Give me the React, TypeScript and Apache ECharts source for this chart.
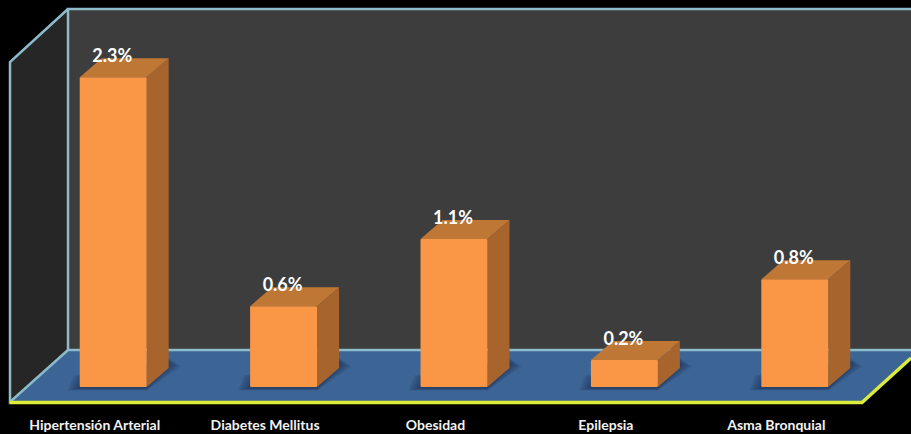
import React, { useEffect, useRef } from "react";
import * as echarts from "echarts";

const categories = ["Hipertensión Arterial", "Diabetes Mellitus", "Obesidad", "Epilepsia", "Asma Bronquial"];
const prevalence = [2.3, 0.6, 1.1, 0.2, 0.8];

const FRONT = "#F99746";
const TOP = "#BF7736";
const SIDE = "#A7642D";
const EDGE = "#8DBBCB";
const FLOOR_EDGE = "#DDEB3A";

// Oblique 3D offset shared by the room and the columns.
const DEPTH_X = 22;
const DEPTH_Y = 19;

// Soft floor shadow, built from stacked translucent layers that widen outwards.
function shadowLayers(l: number, r: number, base: number) {
  const layers: any[] = [];
  for (let i = 0; i < 6; i++) {
    const g = 12 - i * 2;
    layers.push({
      type: "polygon",
      shape: {
        points: [
          [l - g, base + 1 + g * 0.2],
          [r, base + 1 + g * 0.2],
          [r + DEPTH_X + g, base - DEPTH_Y - 4 + g * 0.2],
          [r + DEPTH_X, base - DEPTH_Y - 6 - g * 0.3],
          [l + 6 - g, base - 8 - g * 0.3],
        ],
      },
      style: { fill: "rgba(22,38,72,0.12)" },
    });
  }
  return layers;
}

function renderColumn(params: any, api: any) {
  const value = api.value(1);
  const [cx, top] = api.coord([api.value(0), value]);
  const [, base] = api.coord([api.value(0), 0]);
  const half = (api.size([1, 0])[0] * 0.393) / 2;
  const l = cx - half;
  const r = cx + half;
  return {
    type: "group",
    children: [
      ...shadowLayers(l, r, base),
      {
        type: "polygon",
        shape: { points: [[r, top], [r + DEPTH_X, top - DEPTH_Y], [r + DEPTH_X, base - DEPTH_Y], [r, base]] },
        style: { fill: SIDE },
      },
      {
        type: "polygon",
        shape: { points: [[l, top], [l + DEPTH_X, top - DEPTH_Y], [r + DEPTH_X, top - DEPTH_Y], [r, top]] },
        style: { fill: TOP },
      },
      { type: "rect", shape: { x: l, y: top, width: r - l, height: base - top, r: 1 }, style: { fill: FRONT } },
      {
        type: "text",
        style: {
          x: cx - 1,
          y: top - 22,
          text: `${value}%`,
          fill: "#FFFFFF",
          font: 'bold 18px Lato, "Open Sans", sans-serif',
          align: "center",
          verticalAlign: "middle",
        },
      },
    ],
  };
}

export default function App() {
  const ref = useRef<HTMLDivElement>(null);

  useEffect(() => {
    const chart = echarts.init(ref.current!, undefined, { renderer: "svg" });
    const edge = { stroke: EDGE, lineWidth: 2.5 };
    chart.setOption({
      animation: false,
      backgroundColor: "#000000",
      grid: { left: 28, right: 31, top: 10, bottom: 47 },
      xAxis: {
        type: "category",
        data: categories,
        axisLine: { show: false },
        axisTick: { show: false },
        axisLabel: {
          color: "#F2F2F2",
          fontFamily: 'Lato, "Open Sans", sans-serif',
          fontWeight: "bold",
          fontSize: 14,
          margin: 30,
          interval: 0,
          // Labels sit on the front edge of the floor, left of the column centres.
          padding: [0, 37, 0, 0],
        },
      },
      yAxis: { type: "value", min: 0, max: 2.8, show: false, splitLine: { show: false } },
      graphic: [
        { type: "rect", z: 0, shape: { x: 68, y: 9, width: 843, height: 341 }, style: { fill: "#3D3D3D" } },
        { type: "polygon", z: 0, shape: { points: [[10, 62], [68, 9], [68, 350], [10, 402]] }, style: { fill: "#262626" } },
        { type: "polygon", z: 0, shape: { points: [[10, 402], [68, 350], [911, 350], [911, 358], [862, 402]] }, style: { fill: "#3C6494" } },
        { type: "polyline", z: 1, shape: { points: [[911, 9], [68, 9], [68, 350], [911, 350]] }, style: { ...edge, fill: "none" } },
        { type: "polyline", z: 1, shape: { points: [[68, 9], [10, 62], [10, 402], [68, 350]] }, style: { ...edge, fill: "none" } },
        { type: "polyline", z: 1, shape: { points: [[10, 402.5], [862, 402.5], [911, 358]] }, style: { stroke: FLOOR_EDGE, lineWidth: 3.4, fill: "none" } },
      ],
      series: [
        {
          type: "custom",
          renderItem: renderColumn,
          encode: { x: 0, y: 1 },
          data: prevalence.map((v, i) => [i, v]),
          clip: false,
          z: 5,
        },
      ],
    });
    return () => chart.dispose();
  }, []);

  return <div ref={ref} style={{ position: "fixed", left: 0, top: 0, width: 911, height: 434 }} />;
}
